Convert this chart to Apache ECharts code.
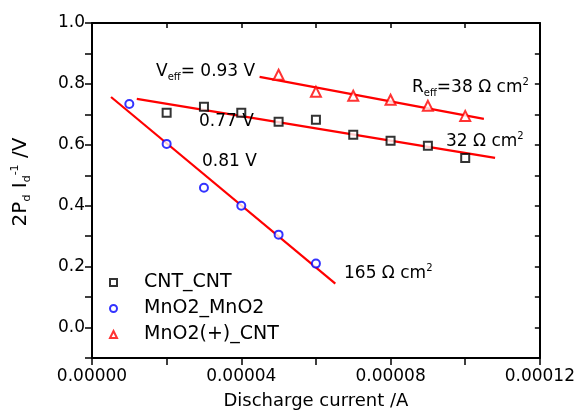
<!DOCTYPE html>
<html>
<head>
<meta charset="utf-8">
<script src="https://cdn.jsdelivr.net/npm/echarts@6/dist/echarts.min.js"></script>
<style>
  html, body { margin: 0; padding: 0; background: #fff; }
  #chart { width: 578px; height: 420px; }
</style>
</head>
<body>
<div id="chart"></div>
<script>
// Measured points: discharge current (A) vs 2Pd/Id (V)
const cntX = [0.00002, 0.00003, 0.00004, 0.00005, 0.00006, 0.00007, 0.00008, 0.00009, 0.00010];
const cntY = [0.705, 0.725, 0.705, 0.676, 0.682, 0.633, 0.613, 0.597, 0.557];

const mnX = [0.00001, 0.00002, 0.00003, 0.00004, 0.00005, 0.00006];
const mnY = [0.734, 0.603, 0.459, 0.400, 0.305, 0.210];

const hybX = [0.00005, 0.00006, 0.00007, 0.00008, 0.00009, 0.00010];
const hybY = [0.830, 0.774, 0.761, 0.748, 0.728, 0.695];

// Linear fits (endpoints of each fitted segment)
const cntFitX = [0.0000120, 0.0001080];
const cntFitY = [0.751, 0.557];
const mnFitX = [0.0000051, 0.0000652];
const mnFitY = [0.757, 0.144];
const hybFitX = [0.0000449, 0.0001050];
const hybFitY = [0.823, 0.685];

const seriesNames = ['CNT_CNT', 'MnO2_MnO2', 'MnO2(+)_CNT'];

const FONT = 'DejaVu Sans';
const zip = (xs, ys) => xs.map((x, i) => [x, ys[i]]);

const chart = echarts.init(document.getElementById('chart'), null, { renderer: 'canvas' });

const axisLine = { show: true, onZero: false, lineStyle: { color: '#000', width: 2 } };
const tickStyle = { color: '#000', width: 1.5 };

const fitLine = (data) => ({
  type: 'line',
  data,
  symbol: 'none',
  silent: true,
  lineStyle: { color: '#ff0000', width: 2.2 },
  z: 2
});

// rich text styles shared by the annotations
const rich = (size) => ({
  n: { fontFamily: FONT, fontSize: size, lineHeight: 21, color: '#000' },
  s: { fontFamily: FONT, fontSize: 10, lineHeight: 8, verticalAlign: 'bottom', color: '#000' },
  p: { fontFamily: FONT, fontSize: 10, lineHeight: 8, verticalAlign: 'top', color: '#000' }
});

const note = (x, y, text, size) => ({
  type: 'text',
  x, y,
  z: 10,
  style: {
    text,
    rich: rich(size || 17),
    fontFamily: FONT,
    fontSize: size || 17,
    fill: '#000',
    align: 'left',
    verticalAlign: 'middle'
  }
});

chart.setOption({
  animation: false,
  backgroundColor: '#fff',
  grid: { left: 92, right: 35, top: 23, bottom: 62 },
  legend: {
    data: seriesNames,
    orient: 'vertical',
    left: 104,
    top: 267,
    itemWidth: 7,
    itemHeight: 7,
    itemGap: 5,
    textStyle: { fontFamily: FONT, fontSize: 19, color: '#000', lineHeight: 21, padding: [0, 0, 0, 22] }
  },
  xAxis: [
    {
      type: 'value',
      position: 'bottom',
      min: 0, max: 0.00012, interval: 0.00002,
      axisLine,
      axisTick: { show: true, inside: false, length: 7, lineStyle: tickStyle },
      splitLine: { show: false },
      axisLabel: {
        margin: 10,
        fontFamily: FONT, fontSize: 17, color: '#000',
        showMinLabel: true, showMaxLabel: true,
        formatter: (v) => (Math.round(v / 0.00002) % 2 === 0 ? v.toFixed(5) : '')
      },
      name: 'Discharge current /A',
      nameLocation: 'middle',
      nameGap: 34,
      nameTextStyle: { fontFamily: FONT, fontSize: 18, color: '#000' }
    },
    {
      type: 'value',
      position: 'top',
      min: 0, max: 0.00012, interval: 0.00002,
      axisLine,
      axisTick: { show: true, inside: true, length: 5, lineStyle: tickStyle },
      axisLabel: { show: false },
      splitLine: { show: false }
    }
  ],
  yAxis: [
    {
      type: 'value',
      position: 'left',
      min: -0.1, max: 1.0, interval: 0.1,
      axisLine,
      axisTick: { show: true, inside: false, length: 7, lineStyle: tickStyle },
      splitLine: { show: false },
      axisLabel: {
        margin: 7,
        fontFamily: FONT, fontSize: 17, color: '#000',
        formatter: (v) => (Math.round(v * 10) % 2 === 0 ? v.toFixed(1) : '')
      }
    },
    {
      type: 'value',
      position: 'right',
      min: -0.1, max: 1.0, interval: 0.1,
      axisLine,
      axisTick: { show: true, inside: true, length: 5, lineStyle: tickStyle },
      axisLabel: { show: false },
      splitLine: { show: false }
    }
  ],
  series: [
    {
      name: seriesNames[0],
      type: 'scatter',
      data: zip(cntX, cntY),
      symbol: 'emptyRect',
      symbolSize: 8,
      itemStyle: { color: '#000', borderWidth: 1.5 },
      z: 5
    },
    {
      name: seriesNames[1],
      type: 'scatter',
      data: zip(mnX, mnY),
      symbol: 'emptyCircle',
      symbolSize: 8,
      itemStyle: { color: '#0000ff', borderWidth: 1.8 },
      z: 5
    },
    {
      name: seriesNames[2],
      type: 'scatter',
      data: zip(hybX, hybY),
      symbol: 'emptyTriangle',
      symbolSize: 10,
      itemStyle: { color: '#ff0000', borderWidth: 1.5 },
      z: 5
    },
    fitLine(zip(cntFitX, cntFitY)),
    fitLine(zip(mnFitX, mnFitY)),
    fitLine(zip(hybFitX, hybFitY))
  ],
  graphic: [
    note(156, 72, '{n|V}{s|eff}{n|= 0.93 V}'),
    note(199, 122, '{n|0.77 V}'),
    note(202, 162, '{n|0.81 V}'),
    note(412, 88, '{n|R}{s|eff}{n|=38 \u03A9 cm}{p|2}'),
    note(446, 142, '{n|32 \u03A9 cm}{p|2}'),
    note(344, 274, '{n|165 \u03A9 cm}{p|2}'),
    {
      type: 'text',
      x: 21, y: 182,
      rotation: Math.PI / 2,
      z: 10,
      style: {
        text: '{n|2P}{s|d}{n| I}{s|d}{p|-1}{n| /V}',
        rich: {
          n: { fontFamily: FONT, fontSize: 20, lineHeight: 23, color: '#000' },
          s: { fontFamily: FONT, fontSize: 11, lineHeight: 9, verticalAlign: 'bottom', color: '#000' },
          p: { fontFamily: FONT, fontSize: 11, lineHeight: 9, verticalAlign: 'top', color: '#000' }
        },
        fontFamily: FONT,
        fontSize: 20,
        fill: '#000',
        align: 'center',
        verticalAlign: 'middle'
      }
    }
  ]
});
</script>
</body>
</html>
